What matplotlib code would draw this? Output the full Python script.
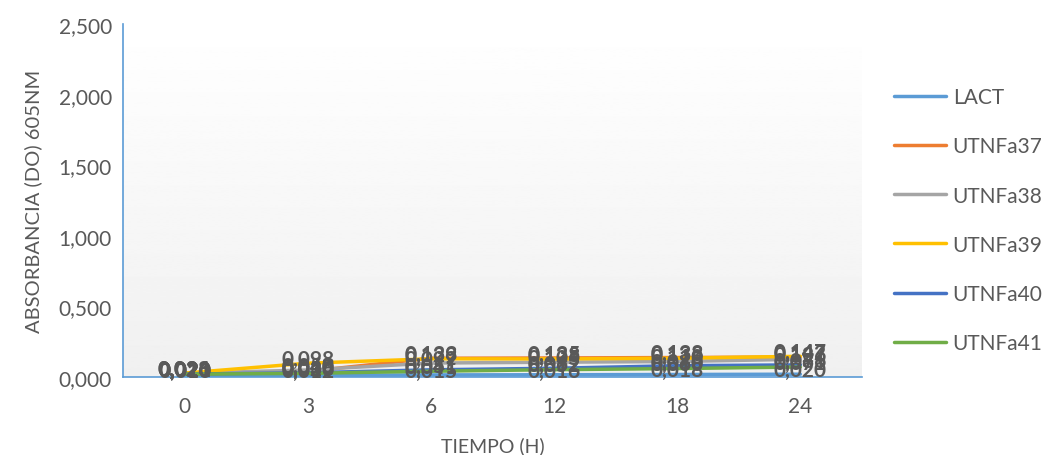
import numpy as np
import matplotlib
matplotlib.use("Agg")
import matplotlib.pyplot as plt

plt.rcParams['font.family'] = ['Lato', 'DejaVu Sans']

tiempo = ['0', '3', '6', '12', '18', '24']
series = ['LACT', 'UTNFa37', 'UTNFa38', 'UTNFa39', 'UTNFa40', 'UTNFa41']
lact = [0.010, 0.012, 0.015, 0.016, 0.018, 0.020]
utnfa37 = [0.020, 0.040, 0.133, 0.135, 0.138, 0.142]
utnfa38 = [0.026, 0.050, 0.099, 0.105, 0.110, 0.126]
utnfa39 = [0.028, 0.098, 0.129, 0.128, 0.133, 0.147]
utnfa40 = [0.021, 0.030, 0.051, 0.062, 0.080, 0.086]
utnfa41 = [0.020, 0.026, 0.041, 0.052, 0.060, 0.071]
colors = ['#5b9bd5', '#ed7d31', '#a5a5a5', '#ffc000', '#4472c4', '#70ad47']

data = [lact, utnfa37, utnfa38, utnfa39, utnfa40, utnfa41]

fig = plt.figure(figsize=(10.46, 4.56), dpi=100)
ax = fig.add_axes([0.1176, 0.171, 0.7064, 0.774])

x = np.arange(len(tiempo))
ax.set_xlim(-0.5, 5.5)
ax.set_ylim(0, 2.5)

# gradient background in plot area
grad = np.linspace(1.0, 0.94, 256).reshape(-1, 1)
ax.imshow(grad, extent=[-0.5, 5.5, 0, 2.5], aspect='auto', cmap='gray',
          vmin=0, vmax=1, zorder=0)

for name, vals, c in zip(series, data, colors):
    ax.plot(x, vals, color=c, lw=2.5, label=name, solid_capstyle='round', zorder=2)
for name, vals, c in zip(series, data, colors):
    for xi, v in zip(x, vals):
        ax.text(xi, v + 0.03, f"{v:.3f}".replace('.', ','), ha='center', va='center',
                fontsize=15, fontweight='bold', color='#595959', zorder=3)

ax.set_xticks(x)
ax.set_xticklabels(tiempo)
yt = np.arange(0, 2.51, 0.5)
ax.set_yticks(yt)
ax.set_yticklabels([f"{v:.3f}".replace('.', ',') for v in yt])
ax.tick_params(axis='both', length=0, labelsize=15, colors='#595959', pad=8)
ax.tick_params(axis='x', pad=14)
for s in ['top', 'right']:
    ax.spines[s].set_visible(False)
for s in ['left', 'bottom']:
    ax.spines[s].set_color('#5b9bd5')
    ax.spines[s].set_linewidth(1.2)

ax.set_ylabel('ABSORBANCIA (DO) 605NM', fontsize=14.5, color='#595959', labelpad=12)
ax.set_xlabel('TIEMPO (H)', fontsize=14, color='#595959', labelpad=14)

fig.legend(loc='center left', bbox_to_anchor=(0.855, 0.515), frameon=False,
           borderaxespad=0, borderpad=0,
           fontsize=15, labelcolor='#595959', handlelength=2.5, handletextpad=0.3,
           labelspacing=1.4)

plt.savefig('out.png', dpi=100)
